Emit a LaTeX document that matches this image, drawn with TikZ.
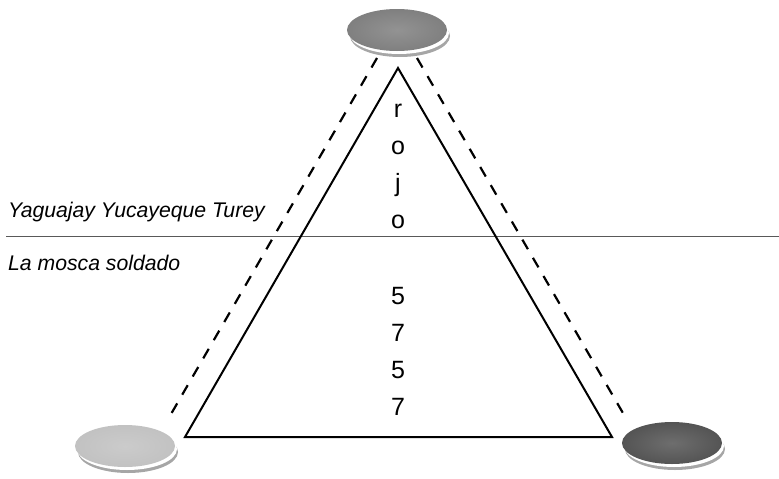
\documentclass[tikz,border=0pt]{standalone}
\usepackage{fontspec}
\setmainfont{Liberation Sans}
\definecolor{discmid}{gray}{0.50}
\definecolor{disclight}{gray}{0.76}
\definecolor{discdark}{gray}{0.33}
\begin{document}
\begin{tikzpicture}[x=1pt,y=-1pt,
  edge/.style={line width=2pt,black},
  dashedge/.style={line width=2.2pt,black,dash pattern=on 11pt off 10pt},
  letter/.style={font=\fontsize{25}{25}\selectfont,anchor=base,inner sep=0pt},
  tag/.style={font=\itshape\fontsize{21.2}{21.2}\selectfont,anchor=base west,inner sep=0pt}]
\useasboundingbox (0,0) rectangle (779,479);
% discs: grey shadow, white rim, shaded face
\newcommand{\disc}[4]{%
  \fill[gray!70] (#1+3,#2+6) ellipse [x radius=50,y radius=21];
  \fill[white] (#1+2,#2+3) ellipse [x radius=50,y radius=21];
  \shade[inner color=#3!85!white,outer color=#3] (#1,#2) ellipse [x radius=50,y radius=21];
  \coordinate (#4) at (#1,#2);}
\disc{397}{30}{discmid}{dtop}
\disc{125}{446}{disclight}{dleft}
\disc{672}{443}{discdark}{dright}
% dividing line
\draw[line width=1pt,black!65] (6,236.5) -- (779,236.5);
% triangle
\coordinate (apex) at (398,68);
\coordinate (bl) at (185,437);
\coordinate (br) at (612,437);
\draw[edge,line join=miter] (apex) -- (bl) -- (br) -- cycle;
% dashed links from the top disc
\coordinate (tl) at (377,58);
\coordinate (tr) at (417,58);
\coordinate (el) at (167,421);
\coordinate (er) at (627,420);
\draw[dashedge] (tl) -- (el);
\draw[dashedge] (tr) -- (er);
% vertical words
\node[letter] (l1) at (398,117) {r};
\node[letter] (l2) at (398,154) {o};
\node[letter] (l3) at (398,191) {j};
\node[letter] (l4) at (398,228) {o};
\node[letter] (n1) at (398,304) {5};
\node[letter] (n2) at (398,341) {7};
\node[letter] (n3) at (398,378) {5};
\node[letter] (n4) at (398,415) {7};
% side labels
\node[tag] (t1) at (8,217.5) {Yaguajay Yucayeque Turey};
\node[tag] (t2) at (8,270) {La mosca soldado};
\end{tikzpicture}
\end{document}
